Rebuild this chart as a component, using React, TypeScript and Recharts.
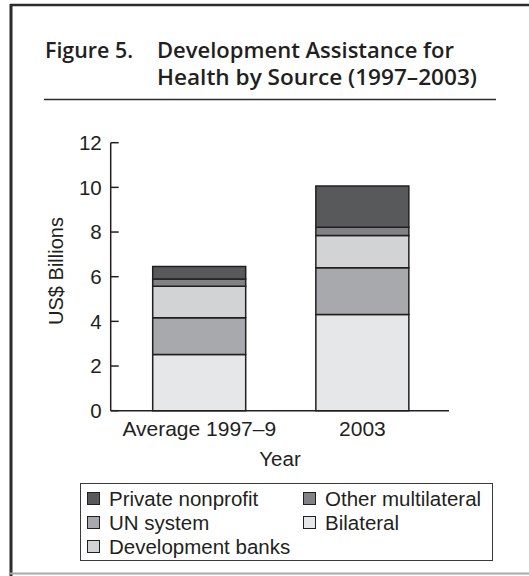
import React from 'react';
import { BarChart, Bar, XAxis, YAxis, Label } from 'recharts';

const categories = ['Average 1997–9', '2003'];
const bilateral = [2.52, 4.31];
const unSystem = [1.64, 2.09];
const devBanks = [1.41, 1.45];
const otherMultilateral = [0.33, 0.36];
const privateNonprofit = [0.56, 1.85];
const yTicks = [0, 2, 4, 6, 8, 10, 12];

const seriesInfo = [
  { key: 'bilateral', name: 'Bilateral', color: '#e6e7e8', values: bilateral },
  { key: 'unSystem', name: 'UN system', color: '#a7a9ac', values: unSystem },
  { key: 'devBanks', name: 'Development banks', color: '#d1d3d4', values: devBanks },
  { key: 'otherMultilateral', name: 'Other multilateral', color: '#808285', values: otherMultilateral },
  { key: 'privateNonprofit', name: 'Private nonprofit', color: '#58595b', values: privateNonprofit },
];

const legendOrder = ['privateNonprofit', 'otherMultilateral', 'unSystem', 'bilateral', 'devBanks'];

const data = categories.map((c, i) => {
  const row: any = { category: c };
  seriesInfo.forEach((s) => { row[s.key] = s.values[i]; });
  return row;
});

const INK = '#231f20';
const FONT = '"Liberation Sans", Arial, Helvetica, sans-serif';

function LegendBox() {
  const items = legendOrder.map((k) => seriesInfo.find((s) => s.key === k)!);
  return (
    <div
      style={{
        position: 'absolute',
        left: 80,
        top: 482.5,
        boxSizing: 'border-box',
        width: 413,
        height: 78,
        border: '1.5px solid #3a3a3a',
        padding: '3px 0 0 6px',
        display: 'grid',
        gridTemplateColumns: '216px 190px',
        gridAutoRows: '24px',
        fontFamily: FONT,
        fontSize: 20.5,
        color: INK,
      }}
    >
      {items.map((s) => (
        <div key={s.key} style={{ display: 'flex', alignItems: 'center', whiteSpace: 'nowrap' }}>
          <span
            style={{
              display: 'inline-block',
              boxSizing: 'border-box',
              width: 13,
              height: 13,
              background: s.color,
              border: `1.5px solid ${INK}`,
              marginRight: 9,
            }}
          />
          <span style={{ lineHeight: '24px' }}>{s.name}</span>
        </div>
      ))}
    </div>
  );
}

export default function App() {
  return (
    <div style={{ position: 'absolute', left: 0, top: 0, width: 529, height: 576, background: '#fff' }}>
      <svg width={529} height={576} style={{ position: 'absolute', left: 0, top: 0 }}>
        <line x1={10} y1={5} x2={529} y2={5} stroke="#2b2b2b" strokeWidth={2.5} />
        <line x1={11} y1={4} x2={11} y2={576} stroke="#2b2b2b" strokeWidth={3} />
        <line x1={10} y1={573.5} x2={529} y2={573.5} stroke="#a8a8a8" strokeWidth={2} />
        <g fontFamily='"Open Sans", "Noto Sans", sans-serif' fontWeight={600} fontSize={22} fill={INK}>
          <text x={45} y={57.5} textLength={88} lengthAdjust="spacingAndGlyphs">Figure 5.</text>
          <text x={157} y={57.5} textLength={297} lengthAdjust="spacingAndGlyphs">Development Assistance for</text>
          <text x={157} y={85} textLength={320} lengthAdjust="spacingAndGlyphs">Health by Source (1997–2003)</text>
        </g>
        <line x1={44} y1={99.5} x2={496} y2={99.5} stroke="#2b2b2b" strokeWidth={1.5} />
      </svg>
      <div style={{ position: 'absolute', left: 0, top: 0 }}>
        <BarChart
          width={529}
          height={576}
          data={data}
          margin={{ top: 142.7, right: 80, bottom: 105.3, left: 0 }}
          barSize={93}
        >
          <XAxis
            dataKey="category"
            height={60}
            padding={{ left: 7, right: 5 }}
            axisLine={{ stroke: INK, strokeWidth: 1.5 }}
            tickLine={false}
            tickSize={0}
            tickMargin={10}
            tick={{ fill: INK, fontSize: 21, fontFamily: FONT }}
            interval={0}
          >
            <Label
              content={() => (
                <text x={280} y={466} textAnchor="middle" fill={INK} fontSize={20.5} fontFamily={FONT}>Year</text>
              )}
            />
          </XAxis>
          <YAxis
            width={110.7}
            domain={[0, 12]}
            ticks={yTicks}
            interval={0}
            axisLine={{ stroke: INK, strokeWidth: 1.5 }}
            tickLine={{ stroke: INK, strokeWidth: 1.5 }}
            tickSize={-8}
            tickMargin={17}
            tick={{ fill: INK, fontSize: 20.5, fontFamily: FONT }}
          >
            <Label
              content={() => (
                <text
                  x={63}
                  y={271}
                  transform="rotate(-90 63 271)"
                  textAnchor="middle"
                  fill={INK}
                  fontSize={20}
                  fontFamily={FONT}
                >
                  US$ Billions
                </text>
              )}
            />
          </YAxis>
          {seriesInfo.map((s) => (
            <Bar
              key={s.key}
              dataKey={s.key}
              name={s.name}
              stackId="a"
              fill={s.color}
              stroke={INK}
              strokeWidth={1.5}
              isAnimationActive={false}
            />
          ))}
        </BarChart>
      </div>
      <LegendBox />
    </div>
  );
}
